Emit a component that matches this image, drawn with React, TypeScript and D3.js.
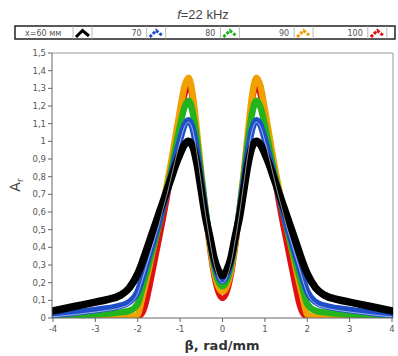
import React from "react";
import * as d3 from "d3";

// β grid for the positive half (curves are symmetric about β = 0)
const betaHalf = [0, 0.1, 0.2, 0.3, 0.4, 0.5, 0.6, 0.7, 0.8, 0.9, 1.0, 1.1, 1.2, 1.3, 1.4, 1.5, 1.6, 1.7, 1.8, 1.9, 2.0, 2.2, 2.4, 2.7, 3.0, 3.5, 4.0];

const a60 = [0.24, 0.27, 0.34, 0.46, 0.57, 0.72, 0.87, 0.97, 1.0, 0.98, 0.93, 0.87, 0.8, 0.73, 0.66, 0.59, 0.52, 0.45, 0.38, 0.31, 0.25, 0.17, 0.13, 0.105, 0.09, 0.065, 0.04];
const a70 = [0.21, 0.24, 0.32, 0.45, 0.6, 0.77, 0.94, 1.07, 1.12, 1.09, 1.01, 0.92, 0.82, 0.72, 0.63, 0.54, 0.46, 0.38, 0.3, 0.22, 0.15, 0.09, 0.07, 0.055, 0.045, 0.03, 0.018];
const a80 = [0.18, 0.21, 0.3, 0.44, 0.61, 0.8, 1.0, 1.16, 1.23, 1.19, 1.09, 0.97, 0.85, 0.74, 0.63, 0.53, 0.43, 0.34, 0.25, 0.16, 0.08, 0.04, 0.032, 0.025, 0.02, 0.012, 0.006];
const a90 = [0.15, 0.18, 0.27, 0.42, 0.61, 0.82, 1.05, 1.26, 1.36, 1.31, 1.18, 1.04, 0.9, 0.77, 0.65, 0.54, 0.43, 0.32, 0.21, 0.11, 0.02, 0.005, 0.004, 0.003, 0.003, 0.002, 0.001];
const a100 = [0.11, 0.14, 0.23, 0.38, 0.57, 0.79, 1.02, 1.22, 1.31, 1.25, 1.11, 0.96, 0.82, 0.68, 0.55, 0.43, 0.31, 0.19, 0.08, 0.02, 0.006, 0.005, 0.005, 0.004, 0.004, 0.003, 0.002];

const seriesLabels = ["x=60 мм", "70", "80", "90", "100"];
const seriesColors = ["#000000", "#1f4fc8", "#22b31e", "#f0a000", "#e01010"];
const seriesValues = [a60, a70, a80, a90, a100];
const drawOrder = [4, 3, 2, 1, 0];

const xTicks = [-4, -3, -2, -1, 0, 1, 2, 3, 4];
const yTicks = [0, 0.1, 0.2, 0.3, 0.4, 0.5, 0.6, 0.7, 0.8, 0.9, 1, 1.1, 1.2, 1.3, 1.4, 1.5];

function mirror(vals: number[]): [number, number][] {
  const pts: [number, number][] = [];
  for (let i = betaHalf.length - 1; i > 0; i--) pts.push([-betaHalf[i], vals[i]]);
  for (let i = 0; i < betaHalf.length; i++) pts.push([betaHalf[i], vals[i]]);
  return pts;
}

export default function App() {
  const W = 398, H = 356;
  const left = 52, right = 393, top = 53, bottom = 318;
  const x = d3.scaleLinear().domain([-4, 4]).range([53, 392]);
  const y = d3.scaleLinear().domain([0, 1.5]).range([bottom, top]);
  const line = d3
    .line<[number, number]>()
    .x((d) => x(d[0]))
    .y((d) => y(d[1]))
    .curve(d3.curveMonotoneX);
  const fmt = (v: number) => (Math.round(v * 10) / 10).toString().replace(".", ",");
  const font = "DejaVu Sans, Verdana, sans-serif";
  const legendX0 = 15;
  const step = 73.7;

  return (
    <svg width={W} height={H} style={{ position: "absolute", left: 0, top: 0 }} fontFamily={font}>
      <rect x={0} y={0} width={W} height={H} fill="#fff" />
      <defs>
        <clipPath id="plotclip">
          <rect x={left} y={top - 5} width={right - left} height={bottom - top + 5} />
        </clipPath>
      </defs>
      {/* title */}
      <text x={203} y={19} textAnchor="middle" fontSize={13} fill="#444" fontFamily="Liberation Sans, Arial, sans-serif">
        <tspan fontStyle="italic">f</tspan>=22 kHz
      </text>
      {/* legend */}
      <rect x={legendX0} y={26} width={395 - legendX0} height={13} fill="#fff" stroke="#222" strokeWidth={1.5} />
      {seriesLabels.map((lab, i) => {
        const sx = 73 + i * step;
        return (
          <g key={lab}>
            <text
              x={i === 0 ? 25 : sx - 5}
              y={35.5}
              textAnchor={i === 0 ? "start" : "end"}
              fontSize={8}
              fill="#555"
            >
              {lab}
            </text>
            <line x1={sx} y1={26} x2={sx} y2={39} stroke="#aaa" strokeWidth={0.8} />
            <path
              d={`M${sx + 3},${37} L${sx + 9.5},${30.5} L${sx + 16},${36}`}
              fill="none"
              stroke={seriesColors[i]}
              strokeWidth={3}
              strokeDasharray={i === 0 ? undefined : "3 1.5"}
            />
            <line x1={sx + 19} y1={26} x2={sx + 19} y2={39} stroke="#aaa" strokeWidth={0.8} />
          </g>
        );
      })}
      {/* frame */}
      <line x1={left} y1={top} x2={right} y2={top} stroke="#999" strokeWidth={1} />
      <line x1={right} y1={top} x2={right} y2={bottom} stroke="#999" strokeWidth={1} />
      {/* curves */}
      <g clipPath="url(#plotclip)">
        {drawOrder.map((si) => (
          <path
            key={si}
            d={line(mirror(seriesValues[si])) || ""}
            fill="none"
            stroke={seriesColors[si]}
            strokeWidth={si === 0 ? 7.5 : si === 4 ? 5 : 6.5}
            strokeLinejoin="round"
            strokeLinecap="round"
          />
        ))}
        <path
          d={line(mirror(a70)) || ""}
          fill="none"
          stroke="#fff"
          strokeOpacity={0.7}
          strokeWidth={0.8}
          transform="translate(0,2)"
        />
      </g>
      {/* axes */}
      <line x1={left} y1={top} x2={left} y2={bottom} stroke="#666" strokeWidth={1} />
      <line x1={left} y1={bottom} x2={right} y2={bottom} stroke="#666" strokeWidth={1} />
      {yTicks.map((t) => (
        <g key={t}>
          <line x1={left - 4} x2={left} y1={y(t)} y2={y(t)} stroke="#666" />
          <text x={left - 6} y={y(t) + 3} textAnchor="end" fontSize={8.5} fill="#555">
            {fmt(t)}
          </text>
        </g>
      ))}
      {xTicks.map((t) => (
        <g key={t}>
          <line x1={x(t)} x2={x(t)} y1={bottom} y2={bottom + 4} stroke="#666" />
          <text x={x(t)} y={bottom + 14} textAnchor="middle" fontSize={8.5} fill="#555">
            {t}
          </text>
        </g>
      ))}
      <text x={222} y={350} textAnchor="middle" fontSize={13} fontWeight="bold" fill="#333">
        β, rad/mm
      </text>
      <text transform="translate(20,185) rotate(-90)" textAnchor="middle" fontSize={14} fill="#444">
        A<tspan fontSize={9} dy={3}>r</tspan>
      </text>
    </svg>
  );
}
